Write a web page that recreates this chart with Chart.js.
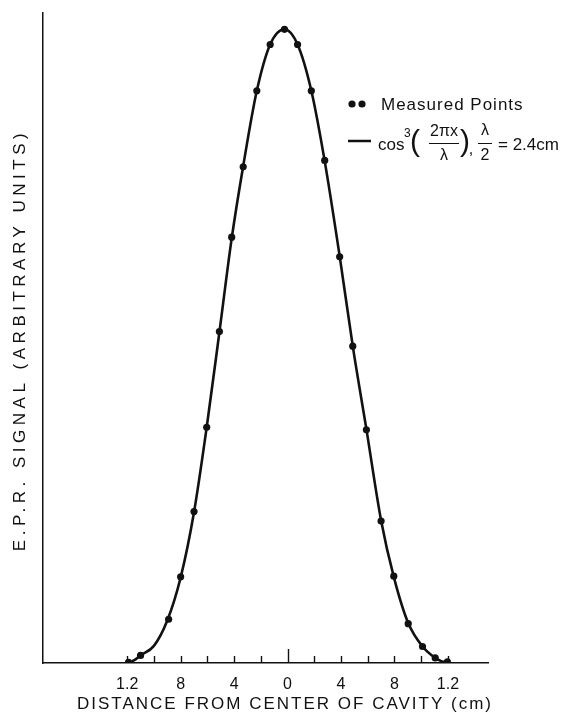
<!DOCTYPE html>
<html>
<head>
<meta charset="utf-8">
<script src="https://cdn.jsdelivr.net/npm/chart.js@4.4.1/dist/chart.umd.min.js"></script>
<style>
  html, body { margin: 0; padding: 0; background: #fff; }
  #wrap { width: 569px; height: 715px; position: relative; }
</style>
</head>
<body>
<div id="wrap"><canvas id="c"></canvas></div>
<script>
// EPR signal vs. distance from cavity centre: measured points + cos^3 fit

const measuredX = [-1.19, -1.10, -0.89, -0.80, -0.70, -0.605, -0.51, -0.418, -0.332, -0.23, -0.13, -0.023,
                   0.075, 0.178, 0.278, 0.39, 0.488, 0.59, 0.70, 0.795, 0.903, 1.01, 1.105, 1.196];
const measuredY = [0.001, 0.012, 0.069, 0.136, 0.239, 0.372, 0.523, 0.672, 0.783, 0.903, 0.976, 1.0,
                   0.976, 0.903, 0.793, 0.641, 0.500, 0.368, 0.224, 0.137, 0.062, 0.026, 0.008, 0.002];

// fitted curve
const curveX = [-1.19, -1.15, -1.10, -1.00, -0.90, -0.80, -0.70, -0.605, -0.51, -0.418, -0.332, -0.23, -0.13, -0.023,
                0.075, 0.178, 0.278, 0.39, 0.488, 0.59, 0.70, 0.795, 0.903, 1.01, 1.105, 1.15, 1.196];
const curveY = [0.0, 0.004, 0.012, 0.027, 0.067, 0.135, 0.238, 0.372, 0.522, 0.670, 0.784, 0.903, 0.976, 1.0,
                0.976, 0.903, 0.792, 0.642, 0.500, 0.369, 0.225, 0.136, 0.063, 0.026, 0.008, 0.003, 0.0];

const xTickValues = [-1.2, -1.0, -0.8, -0.6, -0.4, -0.2, 0, 0.2, 0.4, 0.6, 0.8, 1.0, 1.2];
const xTickText = ["1.2", "", "8", "", "4", "", "0", "", "4", "", "8", "", "1.2"];

const xTitle = "DISTANCE FROM CENTER OF CAVITY (cm)";
const yTitle = "E.P.R. SIGNAL (ARBITRARY UNITS)";
const legendPoints = "Measured Points";

const INK = "#111";
const FONT = "'Liberation Sans', Arial, sans-serif";

const toXY = (xs, ys) => xs.map((x, i) => ({ x, y: ys[i] }));

// ticks pointing up into the plot, titles and the hand-set legend
const decorPlugin = {
  id: "decor",
  afterDraw(chart) {
    const { ctx, scales: { x, y } } = chart;
    const base = y.getPixelForValue(0);
    ctx.save();
    ctx.strokeStyle = INK;
    ctx.fillStyle = INK;
    ctx.lineWidth = 1.4;
    xTickValues.forEach(v => {
      const px = Math.round(x.getPixelForValue(v)) + 0.5;
      const len = v === 0 ? 14 : 7;
      ctx.beginPath(); ctx.moveTo(px, base); ctx.lineTo(px, base - len); ctx.stroke();
    });

    // axis titles
    ctx.textBaseline = "middle";
    ctx.textAlign = "center";
    ctx.font = `17px ${FONT}`;
    ctx.letterSpacing = "2px";
    ctx.fillText(xTitle, 285, 704);
    ctx.save();
    ctx.translate(20, 340);
    ctx.rotate(-Math.PI / 2);
    ctx.letterSpacing = "4.5px";
    ctx.fillText(yTitle, 0, 0);
    ctx.restore();

    // legend
    ctx.letterSpacing = "1px";
    ctx.textAlign = "left";
    [352, 362].forEach(cx => { ctx.beginPath(); ctx.arc(cx, 104, 3.6, 0, Math.PI * 2); ctx.fill(); });
    ctx.fillText(legendPoints, 381, 105);

    ctx.lineWidth = 2.5;
    ctx.beginPath(); ctx.moveTo(348, 141); ctx.lineTo(371, 141); ctx.stroke();
    ctx.letterSpacing = "0px";
    ctx.fillText("cos", 378, 145);
    ctx.font = `12px ${FONT}`;
    ctx.fillText("3", 404, 134);
    ctx.font = `30px ${FONT}`;
    ctx.fillText("(", 410, 143);
    ctx.fillText(")", 460, 143);
    ctx.textAlign = "center";
    ctx.font = `16px ${FONT}`;
    ctx.fillText("2\u03c0x", 444, 132);
    ctx.fillText("\u03bb", 444, 156);
    ctx.fillText("\u03bb", 485, 131);
    ctx.fillText("2", 485, 156);
    ctx.fillText(",", 471, 150);
    ctx.lineWidth = 1;
    ctx.beginPath(); ctx.moveTo(429, 143.5); ctx.lineTo(459, 143.5); ctx.stroke();
    ctx.beginPath(); ctx.moveTo(478, 143.5); ctx.lineTo(492, 143.5); ctx.stroke();
    ctx.textAlign = "left";
    ctx.font = `17px ${FONT}`;
    ctx.fillText("= 2.4cm", 498, 145);
    ctx.restore();
  }
};

new Chart(document.getElementById("c"), {
  type: "scatter",
  data: {
    datasets: [
      { label: "fit", data: toXY(curveX, curveY), showLine: true, pointRadius: 0,
        borderColor: INK, borderWidth: 2.6, cubicInterpolationMode: "monotone" },
      { label: "measured", data: toXY(measuredX, measuredY), showLine: false,
        pointRadius: 3.6, backgroundColor: INK, borderWidth: 0 }
    ]
  },
  options: {
    responsive: true, maintainAspectRatio: false, animation: false,
    layout: { padding: { top: 13, right: 81, left: 0, bottom: 0 } },
    plugins: { legend: { display: false }, tooltip: { enabled: false } },
    scales: {
      x: {
        type: "linear", min: -1.83, max: 1.5,
        afterBuildTicks: (s) => { s.ticks = xTickValues.map(v => ({ value: v })); },
        afterFit: (s) => { s.height = 52; },
        grid: { drawOnChartArea: false, drawTicks: false },
        border: { display: true, color: INK, width: 1.5 },
        ticks: { autoSkip: false, maxRotation: 0, padding: 12, color: INK,
          font: { family: FONT, size: 16 }, callback: (v, i) => xTickText[i] }
      },
      y: {
        min: 0, max: 1.0257,
        afterFit: (s) => { s.width = 43; },
        grid: { drawOnChartArea: false, drawTicks: false },
        border: { display: true, color: INK, width: 1.5 },
        ticks: { display: false }
      }
    }
  },
  plugins: [decorPlugin]
});
</script>
</body>
</html>
